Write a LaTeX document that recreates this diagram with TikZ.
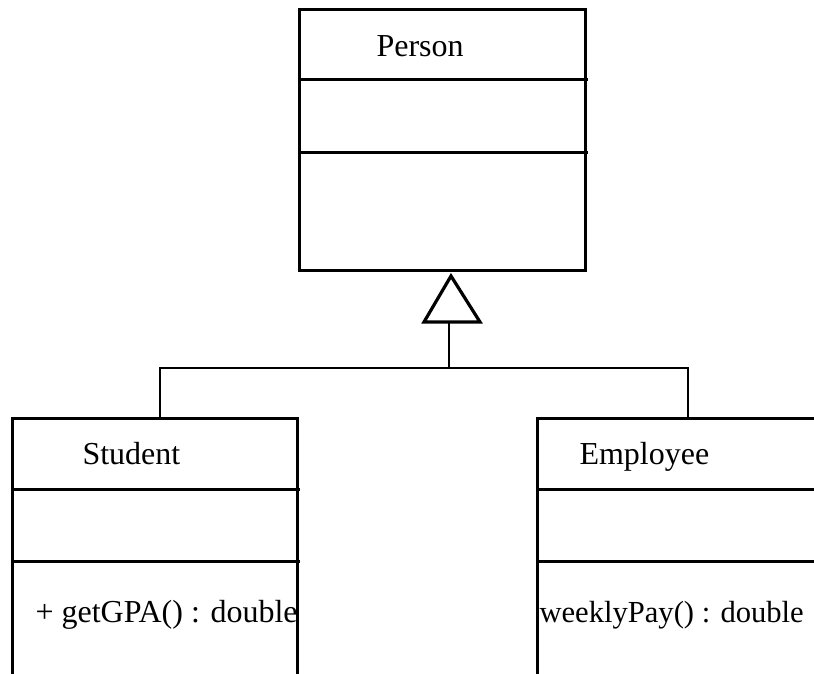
\documentclass[tikz,border=0pt]{standalone}
\usepackage{fontspec}
\setmainfont{Liberation Serif}
\begin{document}
\begin{tikzpicture}[x=1pt,y=-1pt,
  line width=3pt,
  umlbox/.style={draw,line width=3pt,anchor=north west,inner sep=0pt},
  lbl/.style={anchor=base west,inner sep=0pt,font=\fontsize{32}{38}\selectfont},
  conn/.style={line width=2.8pt}]
\useasboundingbox (0,0) rectangle (814,674);
% Person
\node[umlbox,minimum width=286pt,minimum height=261pt] (person) at (298,8) {};
\draw (298,80) -- (588,80);
\draw (298,153) -- (588,153);
\node[lbl] (pname) at (375,57) {Person};
% Student
\node[umlbox,minimum width=285pt,minimum height=300pt] (student) at (11,417) {};
\draw (11,489) -- (300,489);
\draw (11,561) -- (300,561);
\node[lbl] (sname) at (81,464) {Student};
\node[lbl] (sop) at (34,622) {+ getGPA() : double};
% Employee
\node[umlbox,minimum width=320pt,minimum height=300pt] (employee) at (536,417) {};
\draw (536,489) -- (856,489);
\draw (536,561) -- (856,561);
\node[lbl] (ename) at (578,464) {Employee};
\node[lbl,font=\fontsize{30.6}{36}\selectfont] (eop) at (538,622) {weeklyPay() : double};
% generalization
\coordinate (apex) at (451,276);
\coordinate (bl) at (424,322);
\coordinate (br) at (480,322);
\coordinate (tbase) at (449,322);
\coordinate (join) at (449,368);
\coordinate (sl) at (160,368);
\coordinate (er) at (688,368);
\draw[line width=3.2pt,line join=miter] (apex) -- (bl) -- (br) -- cycle;
\draw[conn] (tbase) -- (join);
\draw[conn] (student.north west -| sl) -- (sl) -- (er) -- (employee.north west -| er);
\end{tikzpicture}
\end{document}
